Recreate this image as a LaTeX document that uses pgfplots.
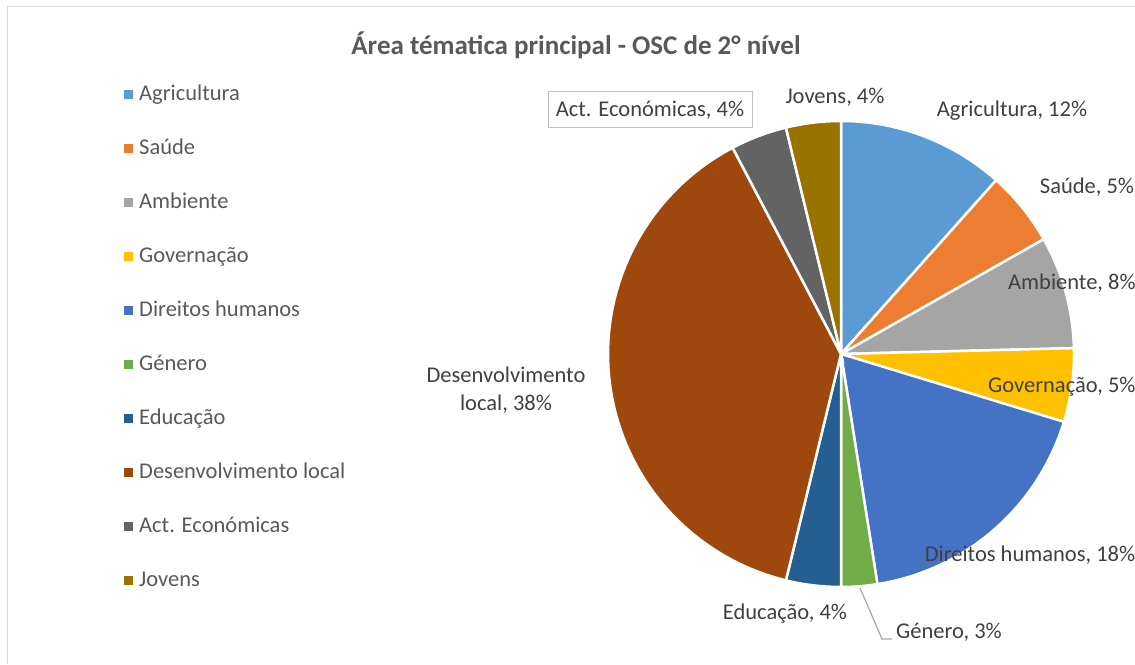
\documentclass[border=0pt]{standalone}
\usepackage{pgfplots}
\pgfplotsset{compat=1.18}
\usepackage{fontspec}
\setmainfont{Carlito}
\definecolor{cA}{HTML}{5B9BD5}
\definecolor{cB}{HTML}{ED7D31}
\definecolor{cC}{HTML}{A5A5A5}
\definecolor{cD}{HTML}{FFC000}
\definecolor{cE}{HTML}{4472C4}
\definecolor{cF}{HTML}{70AD47}
\definecolor{cG}{HTML}{255E91}
\definecolor{cH}{HTML}{9E480E}
\definecolor{cI}{HTML}{636363}
\definecolor{cJ}{HTML}{997300}
\definecolor{txt}{HTML}{404040}
\definecolor{leg}{HTML}{595959}
% shares of each area (percent)
\def\vA{11.6}\def\vB{5.2}\def\vC{7.8}\def\vD{5.1}\def\vE{17.8}
\def\vF{2.5}\def\vG{3.8}\def\vH{38.5}\def\vI{3.9}\def\vJ{3.8}
\pgfmathsetmacro\aA{90}
\pgfmathsetmacro\aB{\aA-3.6*\vA}
\pgfmathsetmacro\aC{\aB-3.6*\vB}
\pgfmathsetmacro\aD{\aC-3.6*\vC}
\pgfmathsetmacro\aE{\aD-3.6*\vD}
\pgfmathsetmacro\aF{\aE-3.6*\vE}
\pgfmathsetmacro\aG{\aF-3.6*\vF}
\pgfmathsetmacro\aH{\aG-3.6*\vG}
\pgfmathsetmacro\aI{\aH-3.6*\vH}
\pgfmathsetmacro\aJ{\aI-3.6*\vI}
\pgfmathsetmacro\aK{\aJ-3.6*\vJ}
\newcommand\fs{\fontsize{22.5}{28}\selectfont}
\begin{document}
\begin{tikzpicture}
\useasboundingbox (0,0) rectangle (1135pt,664pt);
\begin{axis}[
  at={(0pt,0pt)}, anchor=south west,
  scale only axis, width=1135pt, height=664pt,
  xmin=0, xmax=1135, ymin=0, ymax=664,
  hide axis, clip=false,
  legend style={at={(axis cs:121,582)}, anchor=north west, draw=none, fill=none,
    font=\fs, text=leg, row sep=33pt, column sep=6pt,
    nodes={inner sep=0pt, text height=16pt, text depth=5pt}},
  legend cell align=left,
  legend image code/.code={\fill[#1,draw=none] (0pt,-4.5pt) rectangle (9pt,4.5pt);},
  every axis plot/.append style={draw=white, line width=2.5pt, samples=60},
]
\addplot[fill=cA, domain=\aB:\aA] ({841+233*cos(x)},{310+233*sin(x)}) -- (axis cs:841,310) -- cycle;
\addlegendentry{Agricultura}
\addplot[fill=cB, domain=\aC:\aB] ({841+233*cos(x)},{310+233*sin(x)}) -- (axis cs:841,310) -- cycle;
\addlegendentry{Saúde}
\addplot[fill=cC, domain=\aD:\aC] ({841+233*cos(x)},{310+233*sin(x)}) -- (axis cs:841,310) -- cycle;
\addlegendentry{Ambiente}
\addplot[fill=cD, domain=\aE:\aD] ({841+233*cos(x)},{310+233*sin(x)}) -- (axis cs:841,310) -- cycle;
\addlegendentry{Governação}
\addplot[fill=cE, domain=\aF:\aE] ({841+233*cos(x)},{310+233*sin(x)}) -- (axis cs:841,310) -- cycle;
\addlegendentry{Direitos humanos}
\addplot[fill=cF, domain=\aG:\aF] ({841+233*cos(x)},{310+233*sin(x)}) -- (axis cs:841,310) -- cycle;
\addlegendentry{Género}
\addplot[fill=cG, domain=\aH:\aG] ({841+233*cos(x)},{310+233*sin(x)}) -- (axis cs:841,310) -- cycle;
\addlegendentry{Educação}
\addplot[fill=cH, domain=\aI:\aH] ({841+233*cos(x)},{310+233*sin(x)}) -- (axis cs:841,310) -- cycle;
\addlegendentry{Desenvolvimento local}
\addplot[fill=cI, domain=\aJ:\aI] ({841+233*cos(x)},{310+233*sin(x)}) -- (axis cs:841,310) -- cycle;
\addlegendentry{Act. Económicas}
\addplot[fill=cJ, domain=\aK:\aJ] ({841+233*cos(x)},{310+233*sin(x)}) -- (axis cs:841,310) -- cycle;
\addlegendentry{Jovens}
% leader line for Genero
\addplot[forget plot, draw=cC, line width=1.2pt, sharp plot] coordinates {(860,76) (882,25) (892,25)};
% frame
\draw[draw=black!15, line width=1pt] (axis cs:7,0) -- (axis cs:7,657) -- (axis cs:1135,657);
% title
\node[font=\fontsize{27}{32}\selectfont\bfseries, text=leg] at (axis cs:576,619) {Área tématica principal - OSC de 2° nível};
% data labels
\begin{scope}[every node/.style={font=\fs, text=txt, inner sep=0pt}]
\node[draw=black!25, line width=1pt, minimum width=204pt, minimum height=36pt] at (axis cs:650,554) {Act. Económicas, 4\%};
\node at (axis cs:835,567) {Jovens, 4\%};
\node at (axis cs:1012,553) {Agricultura, 12\%};
\node at (axis cs:1087,477) {Saúde, 5\%};
\node[anchor=west] at (axis cs:1008,381) {Ambiente, 8\%};
\node[anchor=west] at (axis cs:988,277) {Governação, 5\%};
\node at (axis cs:1030,109) {Direitos humanos, 18\%};
\node[anchor=west] at (axis cs:896,32) {Género, 3\%};
\node at (axis cs:785,50) {Educação, 4\%};
\node[align=center] at (axis cs:506,274) {Desenvolvimento\\local, 38\%};
\end{scope}
\end{axis}
\end{tikzpicture}
\end{document}
